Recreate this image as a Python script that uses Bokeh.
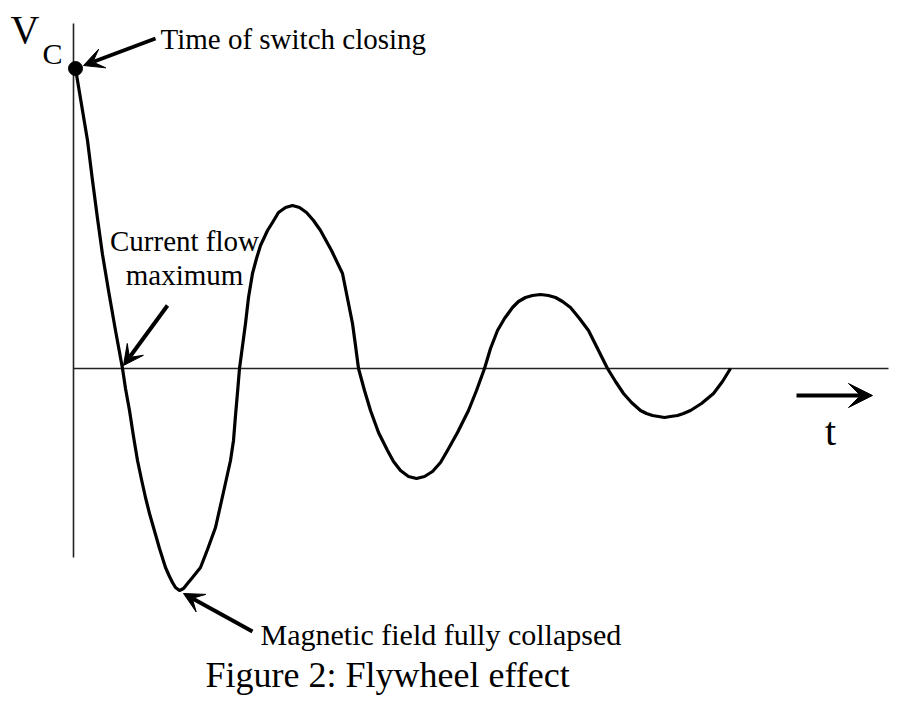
from bokeh.plotting import figure
from bokeh.models import Arrow, VeeHead, Label, ColumnDataSource, Range1d
from bokeh.embed import file_html
from bokeh.resources import INLINE

# Capacitor voltage (arbitrary units) (arbitrary units)
time = [1, 7, 13, 18, 23, 28, 34, 41,
        48, 51, 55, 59, 63, 67, 71, 75, 79, 85,
        91, 95, 98, 101, 105, 109, 113, 118,
        126, 133, 141, 148, 156, 159, 161, 163,
        165, 171, 174, 178, 182,
        186, 193, 198, 204, 211, 218, 225, 232, 239, 246, 257,
        268, 273, 278, 281,
        284, 290, 296, 304,
        313, 319, 326, 334, 342, 350, 358, 366,
        373, 383, 394, 402,
        410, 416, 423, 430, 438, 444, 451, 458, 466, 474, 481, 488, 496, 505, 514, 523,
        533, 541, 549, 557, 566, 572, 578, 584, 590, 596, 603, 609, 616, 627, 639, 648,
        656]
voltage = [300, 264, 228, 188, 150, 114, 78, 38,
           0, -20, -42, -68, -92, -111, -129, -145, -159, -180,
           -199, -208, -214, -219, -222, -220, -215, -209,
           -199, -181, -159, -128, -92, -72, -47, -24,
           0, 45, 71, 95, 110,
           123, 138, 146, 156, 161, 163, 161, 156, 148, 138, 118,
           95, 70, 45, 23,
           0, -22, -42, -64,
           -82, -93, -102, -108, -110, -108, -103, -94,
           -82, -64, -42, -22,
           0, 20, 38, 50, 61, 67, 71, 73, 74, 73, 71, 67, 61, 50, 38, 20,
           0, -13, -25, -34, -42, -45, -47, -48, -49, -48, -47, -45, -42, -35, -25, -13,
           0]

switch_time = [time[0]]
switch_voltage = [voltage[0]]

FONT = "Liberation Serif"

p = figure(width=900, height=701, output_backend="svg", toolbar_location=None,
           x_range=Range1d(-74, 826), y_range=Range1d(-333, 368),
           min_border=0, min_border_left=0, min_border_right=0,
           min_border_top=0, min_border_bottom=0)
p.axis.visible = False
p.grid.visible = False
p.outline_line_color = None
p.background_fill_color = "white"
p.border_fill_color = "white"

# axes drawn as lines
p.line([-1, -1], [345, -189], line_color="#222222", line_width=1.6)
p.line([-1, 814], [0, 0], line_color="#222222", line_width=1.6)

src = ColumnDataSource(dict(t=time, v=voltage))
p.line("t", "v", source=src, line_color="black", line_width=3.2, line_join="round")
p.scatter(switch_time, switch_voltage, size=14, color="black")

def arrow(x0, y0, x1, y1, size=20):
    p.add_layout(Arrow(end=VeeHead(size=size, fill_color="black", line_color="black"),
                       x_start=x0, y_start=y0, x_end=x1, y_end=y1,
                       line_color="black", line_width=4))

arrow(81, 330, 9, 303)
arrow(93, 63, 49, 3)
arrow(178, -263, 109, -225)
arrow(722, -27, 798, -27, size=24)

def label(x, y, text, size, align="left"):
    p.add_layout(Label(x=x, y=y + 9, text=text, text_font=FONT, text_font_size=size,
                       text_color="black", text_align=align, text_baseline="alphabetic"))

label(-64, 330, "V", "40px")
label(-32, 306, "C", "30px")
label(86, 321, "Time of switch closing", "29px")
label(110, 119, "Current flow", "29px", "center")
label(110, 85, "maximum", "29px", "center")
label(186, -275, "Magnetic field fully collapsed", "30px")
label(131, -315, "Figure 2: Flywheel effect", "36px")
label(756, -72, "t", "40px", "center")

open("out.html", "w").write(file_html(p, INLINE))
